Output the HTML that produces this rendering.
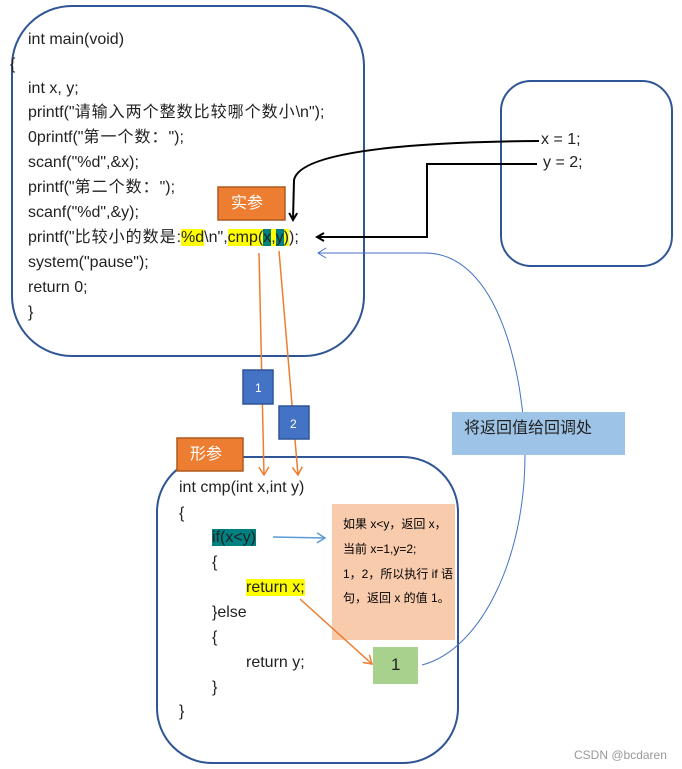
<!DOCTYPE html>
<html><head><meta charset="utf-8"><style>
body{margin:0;background:#fff;width:682px;height:769px;overflow:hidden;position:relative;font-family:"Liberation Sans","Noto Sans CJK SC",sans-serif;}
svg{position:absolute;left:0;top:0}
.t{position:absolute;font-size:16px;color:#222;white-space:nowrap;line-height:20px}
.hy{background:#ffff00}
.ht{background:#008080}
.c{letter-spacing:1px}
</style></head><body>
<svg width="682" height="769" viewBox="0 0 682 769">
<defs>
<marker id="ab" markerWidth="10" markerHeight="10" refX="8" refY="5" orient="auto" markerUnits="userSpaceOnUse"><path d="M1,1 L8,5 L1,9" fill="none" stroke="#000" stroke-width="2"/></marker>
<marker id="ao" markerWidth="12" markerHeight="12" refX="9" refY="6" orient="auto" markerUnits="userSpaceOnUse"><path d="M1,1 L9,6 L1,11" fill="none" stroke="#ed7d31" stroke-width="1.5"/></marker>
<marker id="al" markerWidth="12" markerHeight="12" refX="9" refY="6" orient="auto" markerUnits="userSpaceOnUse"><path d="M1,1 L9,6 L1,11" fill="none" stroke="#5b9bd5" stroke-width="1.5"/></marker>
<marker id="al2" markerWidth="12" markerHeight="12" refX="9" refY="6" orient="auto" markerUnits="userSpaceOnUse"><path d="M1,1 L9,6 L1,11" fill="none" stroke="#4472c4" stroke-width="1"/></marker>
</defs>
<rect x="12" y="6" width="352" height="350" rx="60" fill="none" stroke="#2f5597" stroke-width="2"/>
<rect x="501" y="81" width="171" height="185" rx="30" fill="none" stroke="#2f5597" stroke-width="2"/>
<rect x="157" y="457" width="301" height="306" rx="55" fill="none" stroke="#2f5597" stroke-width="2"/>
<path d="M422,665 C480,650 525,560 525,455 C525,380 500,253 425,253 L318,253" fill="none" stroke="#4472c4" stroke-width="1" marker-end="url(#al2)"/>
<rect x="452" y="412" width="173" height="43" fill="#9dc3e6"/>
<rect x="332" y="504" width="123" height="136" fill="#f8cbad"/>
<rect x="373" y="647" width="45" height="37" fill="#a9d18e"/>
<rect x="218" y="187" width="67" height="33" fill="#ed7d31" stroke="#ae5a21" stroke-width="1.5"/>
<rect x="177" y="438" width="66" height="33" fill="#ed7d31" stroke="#ae5a21" stroke-width="1.5"/>
<line x1="259" y1="253" x2="264" y2="475" stroke="#ed7d31" stroke-width="1.5" marker-end="url(#ao)"/>
<line x1="279" y1="251" x2="298" y2="475" stroke="#ed7d31" stroke-width="1.5" marker-end="url(#ao)"/>
<rect x="243" y="370" width="30" height="34" fill="#4472c4" stroke="#2f5597" stroke-width="1.5"/>
<rect x="279" y="406" width="30" height="33" fill="#4472c4" stroke="#2f5597" stroke-width="1.5"/>
<path d="M539,141 C420,142 300,150 294,180 L293,220" fill="none" stroke="#000" stroke-width="2" marker-end="url(#ab)"/>
<path d="M537,164 L427,164 L427,237 L317,237" fill="none" stroke="#000" stroke-width="2" marker-end="url(#ab)"/>
<line x1="273" y1="537" x2="325" y2="538" stroke="#5b9bd5" stroke-width="1.5" marker-end="url(#al)"/>
<line x1="300" y1="599" x2="372" y2="664" stroke="#ed7d31" stroke-width="1.5" marker-end="url(#ao)"/>
</svg>
<div class="t" style="left:28px;top:30px">int main(void)</div>
<div class="t" style="left:10px;top:55px">{</div>
<div class="t" style="left:28px;top:79px">int x, y;</div>
<div class="t" style="left:28px;top:103px">printf("<span class="c">请输入两个整数比较哪个数小</span>\n");</div>
<div class="t" style="left:28px;top:128px">0printf("<span class="c">第一个数：</span>");</div>
<div class="t" style="left:28px;top:153px">scanf("%d",&amp;x);</div>
<div class="t" style="left:28px;top:178px">printf("<span class="c">第二个数：</span>");</div>
<div class="t" style="left:28px;top:203px">scanf("%d",&amp;y);</div>
<div class="t" style="left:28px;top:228px">printf("<span class="c">比较小的数是</span>:<span class="hy">%d</span>\n",<span class="hy">cmp(<span class="ht">x</span>,<span class="ht">y</span>)</span>);</div>
<div class="t" style="left:28px;top:253px">system("pause");</div>
<div class="t" style="left:28px;top:278px">return 0;</div>
<div class="t" style="left:28px;top:303px">}</div>
<div class="t" style="left:541px;top:130px">x = 1;</div>
<div class="t" style="left:543px;top:153px">y = 2;</div>
<div class="t" style="left:231px;top:194px;color:#fff;font-size:16px">实参</div>
<div class="t" style="left:190px;top:445px;color:#fff;font-size:16px">形参</div>
<div class="t" style="left:255px;top:378px;color:#fff;font-size:12px">1</div>
<div class="t" style="left:290px;top:414px;color:#fff;font-size:12px">2</div>
<div class="t" style="left:464px;top:419px;font-size:16px">将返回值给回调处</div>
<div class="t" style="left:179px;top:478px">int cmp(int x,int y)</div>
<div class="t" style="left:179px;top:504px">{</div>
<div class="t" style="left:212px;top:528px"><span class="ht">if(x&lt;y)</span></div>
<div class="t" style="left:212px;top:553px">{</div>
<div class="t" style="left:246px;top:578px"><span class="hy">return x;</span></div>
<div class="t" style="left:212px;top:603px">}else</div>
<div class="t" style="left:212px;top:628px">{</div>
<div class="t" style="left:246px;top:653px">return y;</div>
<div class="t" style="left:212px;top:678px">}</div>
<div class="t" style="left:179px;top:702px">}</div>
<div class="t" style="left:343px;top:514px;font-size:12px;color:#000">如果 x&lt;y，返回 x，</div>
<div class="t" style="left:343px;top:539px;font-size:12px;color:#000">当前 x=1,y=2;</div>
<div class="t" style="left:343px;top:564px;font-size:12px;color:#000">1，2，所以执行 if 语</div>
<div class="t" style="left:343px;top:588px;font-size:12px;color:#000">句，返回 x 的值 1。</div>
<div class="t" style="left:391px;top:655px;font-size:17px">1</div>
<div class="t" style="left:574px;top:745px;font-size:12px;color:#999">CSDN @bcdaren</div>
</body></html>
